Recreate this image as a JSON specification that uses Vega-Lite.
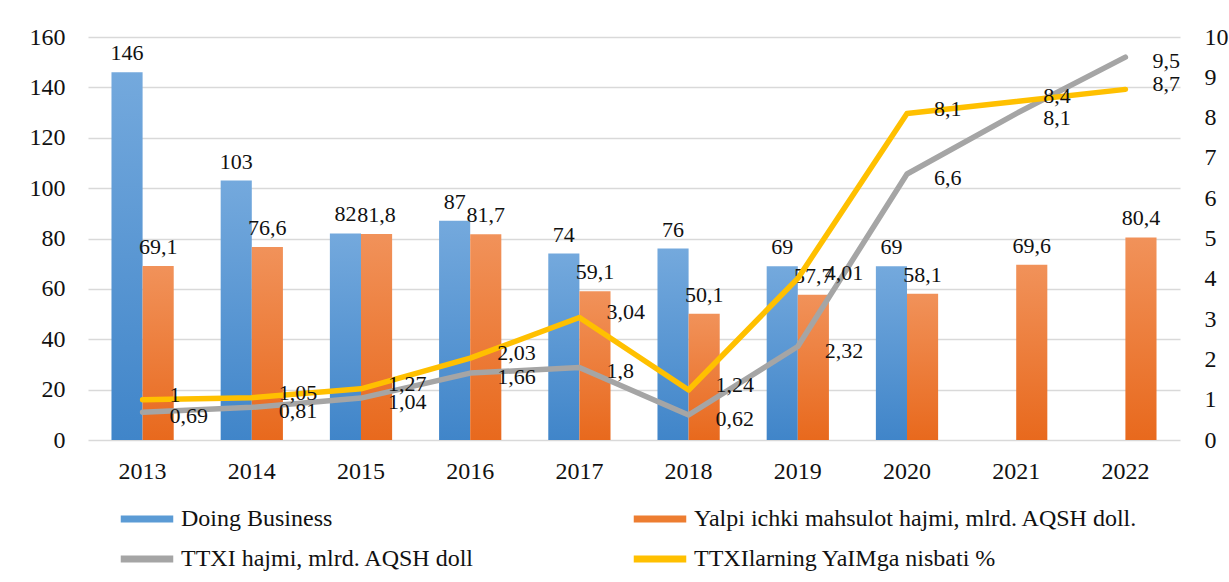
{
  "$schema": "https://vega.github.io/schema/vega-lite/v6.json",
  "width": 1092,
  "height": 403,
  "autosize": "none",
  "padding": {"left": 88, "top": 37, "right": 49, "bottom": 142},
  "config": {
    "font": "Liberation Serif, Times New Roman, serif",
    "locale": {"number": {"decimal": ",", "thousands": " ", "grouping": [3], "currency": ["", ""]}},
    "view": {"stroke": null},
    "axis": {"labelFont": "Liberation Serif, Times New Roman, serif", "labelFontSize": 24, "labelColor": "#111", "ticks": false, "domain": false, "title": null},
    "text": {"font": "Liberation Serif, Times New Roman, serif"}
  },
  "data": {
    "values": [
      {"year": "2013", "series": "Doing Business", "value": 146},
      {"year": "2014", "series": "Doing Business", "value": 103},
      {"year": "2015", "series": "Doing Business", "value": 82},
      {"year": "2016", "series": "Doing Business", "value": 87},
      {"year": "2017", "series": "Doing Business", "value": 74},
      {"year": "2018", "series": "Doing Business", "value": 76},
      {"year": "2019", "series": "Doing Business", "value": 69},
      {"year": "2020", "series": "Doing Business", "value": 69},
      {"year": "2013", "series": "Yalpi ichki mahsulot hajmi, mlrd. AQSH doll.", "value": 69.1},
      {"year": "2014", "series": "Yalpi ichki mahsulot hajmi, mlrd. AQSH doll.", "value": 76.6},
      {"year": "2015", "series": "Yalpi ichki mahsulot hajmi, mlrd. AQSH doll.", "value": 81.8},
      {"year": "2016", "series": "Yalpi ichki mahsulot hajmi, mlrd. AQSH doll.", "value": 81.7},
      {"year": "2017", "series": "Yalpi ichki mahsulot hajmi, mlrd. AQSH doll.", "value": 59.1},
      {"year": "2018", "series": "Yalpi ichki mahsulot hajmi, mlrd. AQSH doll.", "value": 50.1},
      {"year": "2019", "series": "Yalpi ichki mahsulot hajmi, mlrd. AQSH doll.", "value": 57.7},
      {"year": "2020", "series": "Yalpi ichki mahsulot hajmi, mlrd. AQSH doll.", "value": 58.1},
      {"year": "2021", "series": "Yalpi ichki mahsulot hajmi, mlrd. AQSH doll.", "value": 69.6},
      {"year": "2022", "series": "Yalpi ichki mahsulot hajmi, mlrd. AQSH doll.", "value": 80.4},
      {"year": "2013", "series": "TTXI hajmi, mlrd. AQSH doll", "value": 0.69},
      {"year": "2014", "series": "TTXI hajmi, mlrd. AQSH doll", "value": 0.81},
      {"year": "2015", "series": "TTXI hajmi, mlrd. AQSH doll", "value": 1.04},
      {"year": "2016", "series": "TTXI hajmi, mlrd. AQSH doll", "value": 1.66},
      {"year": "2017", "series": "TTXI hajmi, mlrd. AQSH doll", "value": 1.8},
      {"year": "2018", "series": "TTXI hajmi, mlrd. AQSH doll", "value": 0.62},
      {"year": "2019", "series": "TTXI hajmi, mlrd. AQSH doll", "value": 2.32},
      {"year": "2020", "series": "TTXI hajmi, mlrd. AQSH doll", "value": 6.6},
      {"year": "2021", "series": "TTXI hajmi, mlrd. AQSH doll", "value": 8.1},
      {"year": "2022", "series": "TTXI hajmi, mlrd. AQSH doll", "value": 9.5},
      {"year": "2013", "series": "TTXIlarning YaIMga nisbati %", "value": 1},
      {"year": "2014", "series": "TTXIlarning YaIMga nisbati %", "value": 1.05},
      {"year": "2015", "series": "TTXIlarning YaIMga nisbati %", "value": 1.27},
      {"year": "2016", "series": "TTXIlarning YaIMga nisbati %", "value": 2.03},
      {"year": "2017", "series": "TTXIlarning YaIMga nisbati %", "value": 3.04},
      {"year": "2018", "series": "TTXIlarning YaIMga nisbati %", "value": 1.24},
      {"year": "2019", "series": "TTXIlarning YaIMga nisbati %", "value": 4.01},
      {"year": "2020", "series": "TTXIlarning YaIMga nisbati %", "value": 8.1},
      {"year": "2021", "series": "TTXIlarning YaIMga nisbati %", "value": 8.4},
      {"year": "2022", "series": "TTXIlarning YaIMga nisbati %", "value": 8.7}
    ]
  },
  "encoding": {
    "x": {
      "field": "year", "type": "nominal",
      "scale": {"paddingInner": 0.43, "paddingOuter": 0.215},
      "axis": {"labelAngle": 0, "labelPadding": 19}
    }
  },
  "layer": [
    {
      "transform": [{"filter": "datum.series === 'Doing Business' || datum.series === 'Yalpi ichki mahsulot hajmi, mlrd. AQSH doll.'"}],
      "encoding": {
        "xOffset": {"field": "series", "type": "nominal", "scale": {"domain": ["Doing Business", "Yalpi ichki mahsulot hajmi, mlrd. AQSH doll."], "paddingInner": 0, "paddingOuter": 0}},
        "y": {
          "field": "value", "type": "quantitative",
          "scale": {"domain": [0, 160], "nice": false},
          "axis": {"values": [0, 20, 40, 60, 80, 100, 120, 140, 160], "grid": true, "gridColor": "#d9d9d9", "gridWidth": 1.3, "labelPadding": 23}
        }
      },
      "layer": [
        {
          "transform": [{"filter": "datum.series === 'Doing Business'"}],
          "mark": {"type": "bar", "color": {"gradient": "linear", "x1": 0, "y1": 0, "x2": 0, "y2": 1, "stops": [{"offset": 0, "color": "#74a9dd"}, {"offset": 1, "color": "#4085c9"}]}}
        },
        {
          "transform": [{"filter": "datum.series !== 'Doing Business'"}],
          "mark": {"type": "bar", "color": {"gradient": "linear", "x1": 0, "y1": 0, "x2": 0, "y2": 1, "stops": [{"offset": 0, "color": "#f1925a"}, {"offset": 1, "color": "#e8691d"}]}}
        },
        {
          "mark": {"type": "text", "baseline": "alphabetic", "dy": -12, "fontSize": 22, "color": "#111"},
          "encoding": {"text": {"field": "value", "type": "quantitative", "format": "~g"}}
        }
      ]
    },
    {
      "transform": [{"filter": "datum.series === 'TTXI hajmi, mlrd. AQSH doll' || datum.series === 'TTXIlarning YaIMga nisbati %'"}],
      "encoding": {
        "y": {
          "field": "value", "type": "quantitative",
          "scale": {"domain": [0, 10], "nice": false},
          "axis": {"orient": "right", "values": [0, 1, 2, 3, 4, 5, 6, 7, 8, 9, 10], "grid": false, "labelPadding": 24}
        }
      },
      "layer": [
        {
          "mark": {"type": "line", "strokeWidth": 5.5, "strokeCap": "round", "strokeJoin": "round"},
          "encoding": {
            "color": {
              "field": "series", "type": "nominal",
              "scale": {
                "domain": ["Doing Business", "Yalpi ichki mahsulot hajmi, mlrd. AQSH doll.", "TTXI hajmi, mlrd. AQSH doll", "TTXIlarning YaIMga nisbati %"],
                "range": ["#5b9bd5", "#ed7d31", "#a5a5a5", "#ffc000"]
              },
              "legend": {
                "orient": "none", "legendX": 45, "legendY": 468, "direction": "horizontal", "columns": 2, "columnPadding": 144, "rowPadding": 12,
                "symbolType": "M-2.5,0H2.5", "symbolSize": 441, "symbolStrokeWidth": 7,
                "labelFont": "Liberation Serif, Times New Roman, serif", "labelFontSize": 24, "labelColor": "#111", "labelOffset": 20, "labelLimit": 0, "title": null
              }
            }
          }
        },
        {
          "transform": [{"filter": "datum.series === 'TTXI hajmi, mlrd. AQSH doll'"}],
          "mark": {"type": "text", "align": "left", "baseline": "middle", "dx": 27, "dy": 4, "fontSize": 22, "color": "#111"},
          "encoding": {"text": {"field": "value", "type": "quantitative", "format": "~g"}}
        },
        {
          "transform": [{"filter": "datum.series === 'TTXIlarning YaIMga nisbati %'"}],
          "mark": {"type": "text", "align": "left", "baseline": "middle", "dx": 27, "dy": -5, "fontSize": 22, "color": "#111"},
          "encoding": {"text": {"field": "value", "type": "quantitative", "format": "~g"}}
        }
      ]
    }
  ],
  "resolve": {"scale": {"y": "independent"}}
}
